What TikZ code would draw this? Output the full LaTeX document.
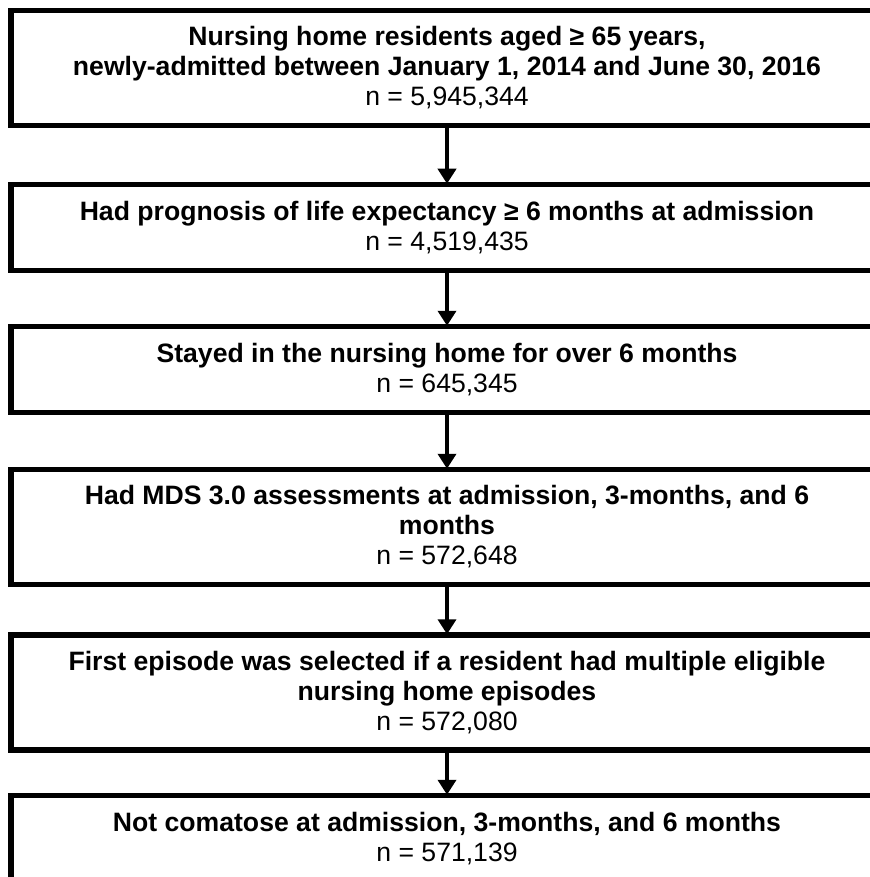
\documentclass[tikz,border=0pt]{standalone}
\usepackage{fontspec}
\setmainfont{Liberation Sans}
\usetikzlibrary{arrows.meta}
\tikzset{
  box/.style={draw, line width=2.75pt, align=center, minimum width=436pt, inner sep=0pt,
    font=\fontsize{13.3}{15}\selectfont, execute at begin node={\rule{0pt}{12pt}}},
  kshort/.style={box, minimum height=43pt}, ktall/.style={box, minimum height=57.5pt},
  flow/.style={-{Triangle[width=9pt, length=7.5pt]}, line width=2.4pt, shorten >=-1pt},
}
\begin{document}
\begin{tikzpicture}[x=0.5pt, y=0.5pt]
    \clip (0,0) rectangle (870,-877);
    \node[ktall] (admit) at (447,-68.00) {\textbf{Nursing home residents aged ≥ 65 years,}\\ \textbf{newly-admitted between January 1, 2014 and June 30, 2016}\\ n = 5,945,344};
    \node[kshort] (prog) at (447,-227.50) {\textbf{Had prognosis of life expectancy ≥ 6 months at admission}\\ n = 4,519,435};
    \node[kshort] (stay) at (447,-369.50) {\textbf{Stayed in the nursing home for over 6 months}\\ n = 645,345};
    \node[ktall] (mds) at (447,-527.00) {\textbf{Had MDS 3.0 assessments at admission, 3-months, and 6}\\ \textbf{months}\\ n = 572,648};
    \node[ktall] (first) at (447,-692.50) {\textbf{First episode was selected if a resident had multiple eligible}\\ \textbf{nursing home episodes}\\ n = 572,080};
    \node[kshort] (coma) at (447,-838.50) {\textbf{Not comatose at admission, 3-months, and 6 months}\\ n = 571,139};
    \draw[flow] (admit) -- (prog);
    \draw[flow] (prog) -- (stay);
    \draw[flow] (stay) -- (mds);
    \draw[flow] (mds) -- (first);
    \draw[flow] (first) -- (coma);
  \end{tikzpicture}
\end{document}
